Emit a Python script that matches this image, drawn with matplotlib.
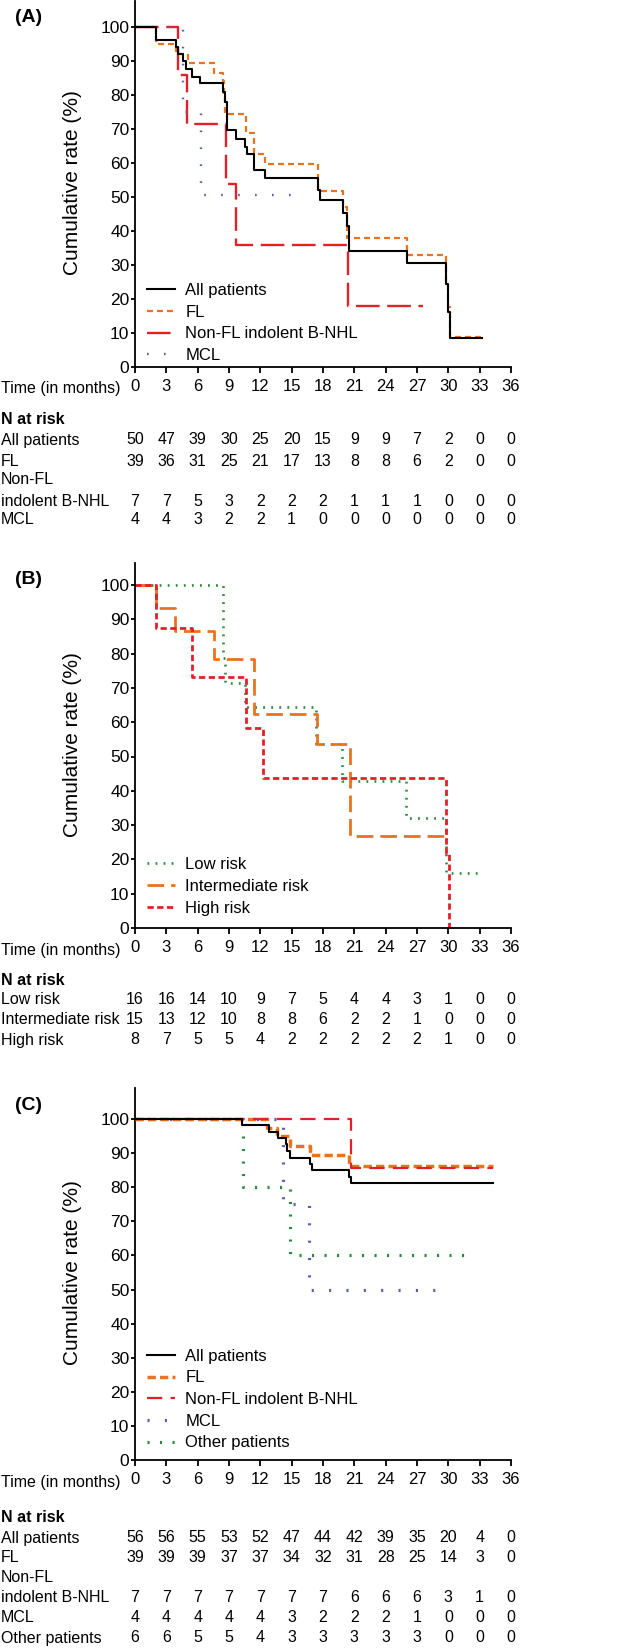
import matplotlib
matplotlib.use("Agg")
import matplotlib.pyplot as plt

plt.rcParams['font.family'] = ['Liberation Sans', 'DejaVu Sans']
plt.rcParams['lines.scale_dashes'] = False

# ---------------- data ----------------
months = [0, 3, 6, 9, 12, 15, 18, 21, 24, 27, 30, 33, 36]

# (A) curves: step times (months) and cumulative rate (%)
a_all_t = [0, 2.0, 3.9, 4.15, 4.55, 4.9, 5.5, 6.2, 8.4, 8.6, 8.8, 9.7, 10.5, 10.75, 11.4, 12.4, 17.55, 17.7, 19.95, 20.25, 20.5, 26.0, 29.75, 29.95, 30.2, 33.2]
a_all_v = [100, 96, 94, 92, 89.8, 87.5, 85.3, 83.3, 80.8, 78, 69.5, 67, 64.6, 62.5, 58, 55.6, 52, 49, 45.3, 41.5, 34.1, 30.4, 24.2, 16.2, 8.3, 8.3]
a_fl_t = [0, 2.0, 3.9, 5.1, 7.6, 8.4, 8.5, 8.6, 10.6, 11.35, 12.45, 17.55, 19.95, 20.3, 26.0, 29.8, 29.95, 30.2, 33.2]
a_fl_v = [100, 95, 92, 89.4, 86.5, 84, 80, 74.2, 68.6, 62.5, 59.6, 51.6, 47, 37.8, 33, 25, 17.5, 8.8, 8.8]
a_nfl_t = [0, 4.15, 4.95, 8.7, 9.7, 20.35, 27.6]
a_nfl_v = [100, 85.7, 71.4, 53.6, 35.7, 17.9, 17.9]
a_mcl_t = [0, 4.55, 6.3, 16.0]
a_mcl_v = [100, 75, 50.5, 50.5]

# (B) curves
b_low_t = [0, 8.4, 8.6, 10.5, 17.3, 19.8, 25.9, 29.8, 33.0]
b_low_v = [100, 78.6, 71.4, 64.3, 53.6, 42.9, 32.1, 16.1, 16.1]
b_int_t = [0, 2.0, 3.8, 7.6, 11.4, 17.4, 20.6, 29.8]
b_int_v = [100, 93.3, 86.7, 78.3, 62.5, 53.6, 26.8, 26.8]
b_high_t = [0, 2.0, 5.5, 10.6, 12.3, 29.8, 30.1]
b_high_v = [100, 87.5, 73.1, 58.3, 43.8, 21.9, 0]

# (C) curves
c_all_t = [0, 10.2, 12.8, 13.7, 14.5, 14.6, 14.8, 16.8, 16.9, 20.5, 20.65, 34.3]
c_all_v = [100, 98.2, 96.3, 94.5, 92.6, 90.7, 88.7, 86.8, 84.9, 83.0, 81.1, 81.1]
c_fl_t = [0, 12.6, 13.6, 14.8, 16.8, 20.5, 34.3]
c_fl_v = [100, 97.4, 94.9, 92.1, 89.4, 86.3, 86.3]
c_nfl_t = [0, 20.65, 34.3]
c_nfl_v = [100, 85.7, 85.7]
c_mcl_t = [0, 14.2, 16.7, 28.7]
c_mcl_v = [100, 75, 50, 50]
c_oth_t = [0, 10.3, 14.85, 32.2]
c_oth_v = [100, 80, 60, 60]

# N at risk tables
a_rows = ['All patients', 'FL', 'Non-FL\nindolent B-NHL', 'MCL']
a_risk = [
    [50, 47, 39, 30, 25, 20, 15, 9, 9, 7, 2, 0, 0],
    [39, 36, 31, 25, 21, 17, 13, 8, 8, 6, 2, 0, 0],
    [7, 7, 5, 3, 2, 2, 2, 1, 1, 1, 0, 0, 0],
    [4, 4, 3, 2, 2, 1, 0, 0, 0, 0, 0, 0, 0],
]
b_rows = ['Low risk', 'Intermediate risk', 'High risk']
b_risk = [
    [16, 16, 14, 10, 9, 7, 5, 4, 4, 3, 1, 0, 0],
    [15, 13, 12, 10, 8, 8, 6, 2, 2, 1, 0, 0, 0],
    [8, 7, 5, 5, 4, 2, 2, 2, 2, 2, 1, 0, 0],
]
c_rows = ['All patients', 'FL', 'Non-FL\nindolent B-NHL', 'MCL', 'Other patients']
c_risk = [
    [56, 56, 55, 53, 52, 47, 44, 42, 39, 35, 20, 4, 0],
    [39, 39, 39, 37, 37, 34, 32, 31, 28, 25, 14, 3, 0],
    [7, 7, 7, 7, 7, 7, 7, 6, 6, 6, 3, 1, 0],
    [4, 4, 4, 4, 4, 3, 2, 2, 2, 1, 0, 0, 0],
    [6, 6, 5, 5, 4, 3, 3, 3, 3, 3, 0, 0, 0],
]

ORANGE = '#E8731F'
RED = '#E2202A'
BLUE = '#5A5FB0'
GREEN = '#2A8A3E'

W, H = 625, 1650
fig = plt.figure(figsize=(W / 100, H / 100), dpi=100)


def put(x, y, s, **kw):
    kw.setdefault('va', 'center')
    fig.text(x / W, 1 - y / H, s, **kw)


def make_axes(y_zero, ppu, top):
    # y_zero: pixel row of value 0, ppu: pixels per 10 %, top: ylim top
    h = top * ppu / 10
    ax = fig.add_axes([135 / W, 1 - y_zero / H, 376 / W, h / H])
    ax.set_xlim(0, 36)
    ax.set_ylim(0, top)
    ax.set_xticks(months)
    ax.set_yticks(range(0, 101, 10))
    ax.spines['top'].set_visible(False)
    ax.spines['right'].set_visible(False)
    for s in ['left', 'bottom']:
        ax.spines[s].set_linewidth(1.3)
        ax.spines[s].set_clip_on(False)
    ax.tick_params(axis='x', length=4, width=1.3, pad=4.5, labelsize=12)
    ax.tick_params(axis='y', length=3, width=1.3, pad=1, labelsize=12.5)
    ax.patch.set_visible(False)
    return ax


def risk_table(y_head, y_rows, rows, data):
    put(1, y_head, 'N at risk', fontsize=11.5, fontweight='bold')
    r = 0
    for name, vals in zip(rows, data):
        if '\n' in name:
            a, b = name.split('\n')
            put(1, y_rows[r], a, fontsize=11.5)
            r += 1
            put(1, y_rows[r], b, fontsize=11.5)
        else:
            put(1, y_rows[r], name, fontsize=11.5)
        for m, v in zip(months, vals):
            put(135 + m * 376 / 36, y_rows[r], str(v), fontsize=11.5, ha='center')
        r += 1


LEG = dict(loc='lower left', frameon=False, fontsize=12, handlelength=1.7, handletextpad=0.6,
           labelspacing=0.4, borderpad=0, borderaxespad=0)

# ---------------- (A) ----------------
axA = make_axes(366.7, 34.0, 107.5)
axA.step(a_fl_t, a_fl_v, where='post', color=ORANGE, lw=1.6, ls=(0, (4.3, 2.9)), label='FL')
axA.step(a_nfl_t, a_nfl_v, where='post', color=RED, lw=1.7, ls=(0, (17, 5.5)), label='Non-FL indolent B-NHL')
axA.step(a_mcl_t, a_mcl_v, where='post', color=BLUE, lw=1.7, ls=(0, (1.2, 11)), label='MCL')
axA.step(a_all_t, a_all_v, where='post', color='black', lw=1.5, label='All patients')
h, l = axA.get_legend_handles_labels()
order = [3, 0, 1, 2]
axA.legend([h[i] for i in order], [l[i] for i in order], bbox_to_anchor=(0.032, 0.01), **LEG)
put(15, 18, '(A)', fontsize=14, fontweight='bold')
put(72, 183, 'Cumulative rate (%)', fontsize=15, rotation=90, ha='center')
put(1, 388, 'Time (in months)', fontsize=11.5)
risk_table(420, [440, 461, 480, 501, 520], a_rows, a_risk)

# ---------------- (B) ----------------
axB = make_axes(928, 34.3, 106.4)
axB.step(b_low_t, b_low_v, where='post', color=GREEN, lw=1.9, ls=(0, (1.3, 4.5)), label='Low risk')
axB.step(b_int_t, b_int_v, where='post', color=ORANGE, lw=2.0, ls=(0, (12, 5)), label='Intermediate risk')
axB.step(b_high_t, b_high_v, where='post', color=RED, lw=2.0, ls=(0, (4.5, 2.5)), label='High risk')
axB.legend(bbox_to_anchor=(0.032, 0.034), **LEG)
put(15, 580, '(B)', fontsize=14, fontweight='bold')
put(72, 745, 'Cumulative rate (%)', fontsize=15, rotation=90, ha='center')
put(1, 950, 'Time (in months)', fontsize=11.5)
risk_table(980, [1000, 1020, 1040], b_rows, b_risk)

# ---------------- (C) ----------------
axC = make_axes(1460, 34.1, 109)
axC.step(c_oth_t, c_oth_v, where='post', color=GREEN, lw=2.3, ls=(0, (1.5, 7.5)), label='Other patients', zorder=2)
axC.step(c_mcl_t, c_mcl_v, where='post', color=BLUE, lw=2.3, ls=(0, (1.5, 11)), label='MCL', zorder=2)
axC.step(c_fl_t, c_fl_v, where='post', color=ORANGE, lw=2.5, ls=(0, (6, 3)), label='FL', zorder=3)
axC.step(c_nfl_t, c_nfl_v, where='post', color=RED, lw=1.6, ls=(0, (11, 6)), label='Non-FL indolent B-NHL', zorder=4)
axC.step(c_all_t, c_all_v, where='post', color='black', lw=1.5, label='All patients', zorder=5)
h, l = axC.get_legend_handles_labels()
order = [4, 2, 3, 1, 0]
axC.legend([h[i] for i in order], [l[i] for i in order], bbox_to_anchor=(0.032, 0.026), **LEG)
put(15, 1105, '(C)', fontsize=14, fontweight='bold')
put(72, 1273, 'Cumulative rate (%)', fontsize=15, rotation=90, ha='center')
put(1, 1482, 'Time (in months)', fontsize=11.5)
risk_table(1518, [1538, 1558, 1578, 1598, 1617, 1638], c_rows, c_risk)

fig.savefig('out.png', dpi=100)
